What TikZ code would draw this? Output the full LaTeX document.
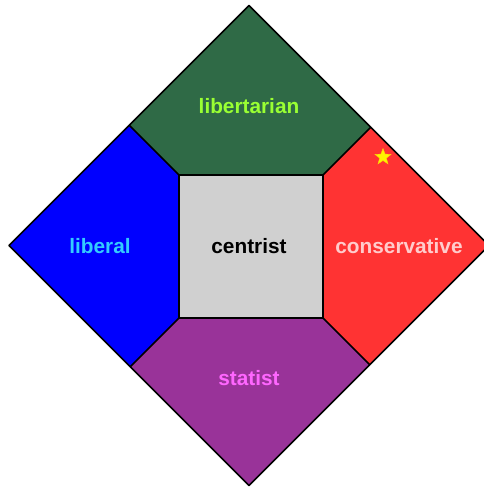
\documentclass[tikz,border=0pt]{standalone}
\usepackage{fontspec}
\setmainfont{Liberation Sans}
\usetikzlibrary{shapes.geometric}
\definecolor{libgreen}{RGB}{47,106,70}
\definecolor{libblue}{RGB}{0,0,255}
\definecolor{conred}{RGB}{255,51,51}
\definecolor{statpurple}{RGB}{153,51,153}
\definecolor{centgray}{RGB}{208,208,208}
\definecolor{tlibert}{RGB}{153,255,51}
\definecolor{tliberal}{RGB}{51,204,255}
\definecolor{tcons}{RGB}{255,204,204}
\definecolor{tstat}{RGB}{255,102,255}
\begin{document}
\begin{tikzpicture}[x=1pt,y=1pt,
  region/.style={draw=black,line width=1.6pt,line join=round},
  lbl/.style={font=\fontsize{20.8}{24}\selectfont\bfseries,inner sep=0pt}]
\useasboundingbox (0,0) rectangle (484,487);
% diamond vertices
\coordinate (T) at (249,481.5);
\coordinate (B) at (249,1.5);
\coordinate (L) at (9,241.5);
\coordinate (R) at (489,241.5);
% centre square corners
\coordinate (sTL) at (179,312);
\coordinate (sTR) at (323,312);
\coordinate (sBL) at (179,169);
\coordinate (sBR) at (323,169);
% points on diamond edges
\coordinate (eTL) at (129.25,361.75);
\coordinate (eTR) at (370.75,359.75);
\coordinate (eBL) at (130.25,120.25);
\coordinate (eBR) at (369.75,122.25);
% regions
\fill[libgreen] (T) -- (eTR) -- (sTR) -- (sTL) -- (eTL) -- cycle;
\fill[libblue] (L) -- (eTL) -- (sTL) -- (sBL) -- (eBL) -- cycle;
\fill[conred] (R) -- (eTR) -- (sTR) -- (sBR) -- (eBR) -- cycle;
\fill[statpurple] (B) -- (eBL) -- (sBL) -- (sBR) -- (eBR) -- cycle;
\fill[centgray] (sTL) rectangle (sBR);
% lines
\draw[region] (T) -- (R) -- (B) -- (L) -- cycle;
\draw[region] (sTL) -- (sTR) -- (sBR) -- (sBL) -- cycle;
\draw[region] (sTL) -- (eTL);
\draw[region] (sTR) -- (eTR);
\draw[region] (sBL) -- (eBL);
\draw[region] (sBR) -- (eBR);
% labels
\node[lbl,text=tlibert] (libertarian) at (249,381) {libertarian};
\node[lbl,text=tliberal] (liberal) at (100,241) {liberal};
\node[lbl,text=black] (centrist) at (249,241) {centrist};
\node[lbl,text=tcons] (conservative) at (399,241) {conservative};
\node[lbl,text=tstat] (statist) at (249,109) {statist};
% star
\node[star,star points=5,star point ratio=2.4,fill=yellow,draw=yellow!70!orange,line width=0.4pt,minimum size=17pt,inner sep=0pt] (star) at (383,330) {};
\end{tikzpicture}
\end{document}
